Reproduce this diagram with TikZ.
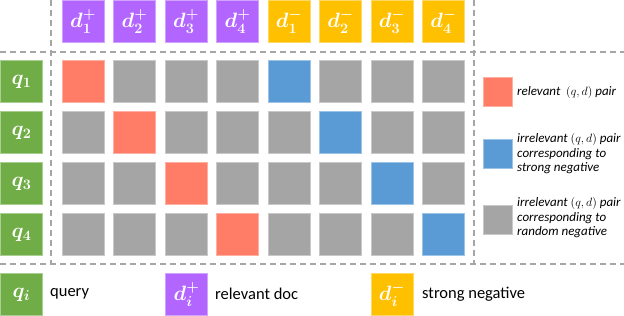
\documentclass[tikz,border=0pt]{standalone}
\usepackage{amsmath}
\usepackage{bm}
\usepackage{fontspec}
\setmainfont{Carlito}
\definecolor{qgreen}{HTML}{70AD47}
\definecolor{dpurple}{HTML}{B366FF}
\definecolor{dorange}{HTML}{FFC000}
\definecolor{cred}{HTML}{FF7C67}
\definecolor{cblue}{HTML}{5B9BD5}
\definecolor{cgray}{HTML}{A5A5A5}
\definecolor{dashgray}{HTML}{A6A6A6}
\tikzset{
  sq/.style={minimum width=42pt, minimum height=41.5pt, inner sep=0pt, draw=#1!60!white, fill=#1, line width=0.7pt},
  lsq/.style={minimum width=29pt, minimum height=29pt, inner sep=0pt, draw=#1!60!white, fill=#1, line width=0.7pt},
  lab/.style={text=white, font=\fontsize{20}{20}\selectfont},
  sep/.style={draw=dashgray, line width=1.5pt, dash pattern=on 6pt off 4pt},
  ltext/.style={anchor=west, align=left, font=\fontsize{13}{14.5}\selectfont\itshape, inner sep=0pt},
  btext/.style={anchor=west, font=\fontsize{16.5}{18}\selectfont, inner sep=0pt}
}
\begin{document}
\begin{tikzpicture}[x=1pt,y=-1pt]
\useasboundingbox (0,0) rectangle (624,316);
% separators
\draw[sep] (0,52) -- (624,52);
\draw[sep] (0,264) -- (624,264);
\draw[sep] (51,0) -- (51,264);
\draw[sep] (474,0) -- (474,264);
% header docs
\foreach \j in {1,...,4}{
  \node[sq=dpurple, lab] (dp\j) at ({83+51.5*(\j-1)},21.5) {$\bm{d}^{\bm{+}}_{\bm{\j}}$};
  \node[sq=dorange, lab] (dn\j) at ({83+51.5*(\j+3)},21.5) {$\bm{d}^{\bm{-}}_{\bm{\j}}$};
}
% queries
\foreach \i in {1,...,4}{
  \node[sq=qgreen, lab] (q\i) at (21.5,{81.5+51*(\i-1)}) {$\bm{q}_{\bm{\i}}$};
}
% cells
\foreach \i in {1,...,4}{
  \foreach \j in {1,...,8}{
    \pgfmathtruncatemacro{\blue}{\i+4}
    \ifnum\j=\i
      \def\cc{cred}
    \else
      \ifnum\j=\blue
        \def\cc{cblue}
      \else
        \def\cc{cgray}
      \fi
    \fi
    \node[sq=\cc] (c\i\j) at ({83+51.5*(\j-1)},{81.5+51*(\i-1)}) {};
  }
}
% right legend
\node[lsq=cred] (lr) at (497.5,91.5) {};
\node[ltext] (lrt) at (517,92) {relevant \ $(q,d)$ pair};
\node[lsq=cblue] (lb) at (497.5,154) {};
\node[ltext] (lbt) at (517,154) {irrelevant $(q,d)$ pair\\corresponding to\\strong negative};
\node[lsq=cgray] (lg) at (497.5,220) {};
\node[ltext] (lgt) at (517,218) {irrelevant $(q,d)$ pair\\corresponding to\\random negative};
% bottom legend
\node[sq=qgreen, lab] (bq) at (21.5,294.5) {$\bm{q}_{\bm{i}}$};
\node[btext] (bqt) at (50,294) {query};
\node[sq=dpurple, lab] (bd) at (186.5,294.5) {$\bm{d}^{\bm{+}}_{\bm{i}}$};
\node[btext] (bdt) at (215,294) {relevant doc};
\node[sq=dorange, lab] (bn) at (392,294.5) {$\bm{d}^{\bm{-}}_{\bm{i}}$};
\node[btext] (bnt) at (422,294) {strong negative};
\end{tikzpicture}
\end{document}
